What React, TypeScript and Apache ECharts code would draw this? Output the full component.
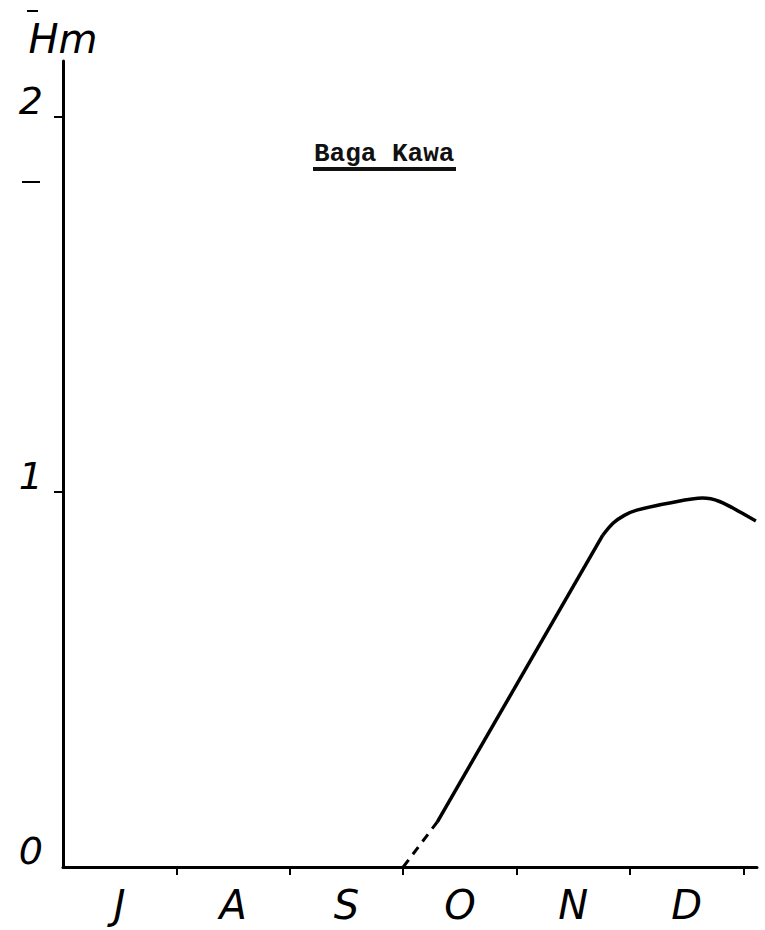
import React, { useEffect, useRef } from "react";
import * as echarts from "echarts";

const monthLabels = ["J", "A", "S", "O", "N", "D"];
const monthLabelPositions = [0.5, 1.5, 2.5, 3.5, 4.5, 5.5];
const monthBoundaries = [1, 2, 3, 4, 5, 6];
const yTickValues = [1, 2];
const yLabelValues = [0, 1, 2];
const dashedPart: [number, number][] = [
  [3.0, 0.0],
  [3.3, 0.12],
];
const straightPart: [number, number][] = [
  [3.3, 0.12],
  [4.76, 0.885],
];
const curvedPart: [number, number][] = [
  [4.76, 0.885],
  [4.85, 0.917],
  [4.95, 0.938],
  [5.06, 0.952],
  [5.35, 0.971],
  [5.64, 0.984],
  [5.79, 0.975],
  [5.97, 0.947],
  [6.11, 0.923],
];

export default function App() {
  const ref = useRef<HTMLDivElement>(null);
  useEffect(() => {
    if (!ref.current) return;
    const chart = echarts.init(ref.current, undefined, { renderer: "svg" });
    const lineStyle = { color: "#000", width: 3.5 };
    const handFont = {
      fontFamily: "DejaVu Sans",
      fontStyle: "italic",
      fontWeight: 200,
      color: "#000",
    };
    chart.setOption({
      animation: false,
      backgroundColor: "#fff",
      title: {
        text: "Baga Kawa",
        left: 309,
        top: 136,
        textStyle: {
          fontFamily: "Liberation Mono",
          fontWeight: "bold",
          fontSize: 26,
          color: "#111",
        },
      },
      grid: { left: 63, right: 8, top: 61, bottom: 63 },
      xAxis: {
        type: "value",
        min: 0,
        max: 6.12,
        interval: 1,
        axisLine: { show: true, lineStyle: { color: "#000", width: 3 } },
        axisTick: {
          show: true,
          customValues: monthBoundaries,
          length: 8,
          lineStyle: { color: "#000", width: 2 },
        },
        splitLine: { show: false },
        axisLabel: {
          customValues: monthLabelPositions,
          formatter: (v: number) => monthLabels[Math.floor(v)] ?? "",
          ...handFont,
          fontSize: 40,
          margin: 18,
        },
      },
      yAxis: {
        type: "value",
        min: 0,
        max: 2.15,
        interval: 1,
        name: "Hm",
        nameLocation: "end",
        nameGap: 2,
        nameTextStyle: {
          ...handFont,
          fontSize: 40,
          align: "center",
        },
        axisLine: { show: true, lineStyle: { color: "#000", width: 3 } },
        axisTick: {
          show: true,
          customValues: yTickValues,
          length: 9,
          lineStyle: { color: "#000", width: 2 },
        },
        splitLine: { show: false },
        axisLabel: {
          customValues: yLabelValues,
          ...handFont,
          fontSize: 38,
          margin: 20,
          verticalAlign: "bottom",
          lineHeight: 32,
        },
      },
      graphic: [
        {
          type: "rect",
          shape: { x: 313, y: 167, width: 143, height: 4 },
          style: { fill: "#111" },
        },
        {
          type: "line",
          shape: { x1: 27, y1: 11, x2: 38, y2: 11 },
          style: { stroke: "#000", lineWidth: 2 },
        },
        {
          type: "line",
          shape: { x1: 22, y1: 182, x2: 40, y2: 182 },
          style: { stroke: "#000", lineWidth: 2 },
        },
      ],
      series: [
        {
          type: "line",
          data: dashedPart,
          symbol: "none",
          lineStyle: { ...lineStyle, width: 3, type: [9, 7] },
        },
        {
          type: "line",
          data: straightPart,
          symbol: "none",
          lineStyle,
        },
        {
          type: "line",
          data: curvedPart,
          symbol: "none",
          smooth: 0.3,
          lineStyle,
        },
      ],
    });
    return () => chart.dispose();
  }, []);
  return (
    <div
      ref={ref}
      style={{ position: "absolute", left: 0, top: 0, width: 765, height: 930 }}
    />
  );
}
